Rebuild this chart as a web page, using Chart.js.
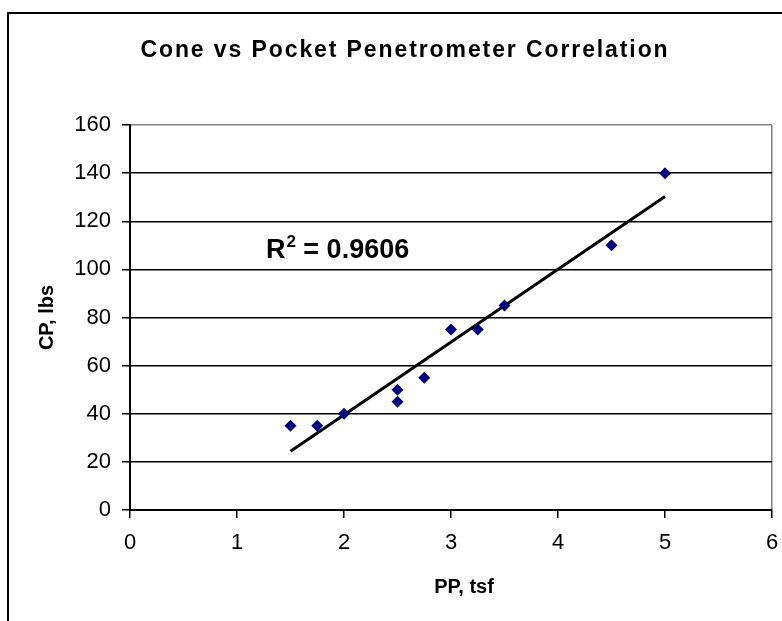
<!DOCTYPE html>
<html>
<head>
<meta charset="utf-8">
<script src="https://cdn.jsdelivr.net/npm/chart.js@4"></script>
<style>
    body { margin: 0; background: #fff; }
    #wrap { width: 782px; height: 621px; position: relative; }
</style>
</head>
<body>
<div id="wrap"><canvas id="coneChart" width="782" height="621"></canvas></div>
<script>
// Data
const ppValues = [1.5, 1.75, 2, 2.5, 2.5, 2.75, 3, 3.25, 3.5, 4.5, 5];
const cpValues = [35, 35, 40, 50, 45, 55, 75, 75, 85, 110, 140];
const trendX = [1.5, 5];
const trendY = [24.4, 130.3];
const rSquared = '0.9606';
const chartTitle = 'Cone vs Pocket Penetrometer Correlation';
const xLabel = 'PP, tsf';
const yLabel = 'CP, lbs';

const colors = {
    marker: '#000080',
    line: '#000000',
    frame: '#808080',
};

const FONT = '"Liberation Sans", Arial, sans-serif';

// Outer frame, title, x axis title and R² label
const decorations = {
    id: 'decorations',
    beforeDraw(chart) {
        const ctx = chart.ctx;
        ctx.save();
        ctx.fillStyle = '#fff';
        ctx.fillRect(0, 0, chart.width, chart.height);
        ctx.strokeStyle = '#000';
        ctx.lineWidth = 2;
        ctx.strokeRect(8, 13, chart.width + 20, chart.height + 20);
        ctx.restore();
    },
    afterDraw(chart) {
        const ctx = chart.ctx;
        ctx.save();
        ctx.fillStyle = '#000';
        ctx.textBaseline = 'alphabetic';

        // title
        ctx.font = 'bold 23px ' + FONT;
        ctx.letterSpacing = '1.9px';
        ctx.textAlign = 'center';
        ctx.fillText(chartTitle, 405, 57);
        ctx.letterSpacing = '0px';

        // x axis title (sits a little right of the plot centre in the original)
        ctx.font = 'bold 20px ' + FONT;
        ctx.textBaseline = 'middle';
        ctx.fillText(xLabel, 464, 587);
        ctx.textBaseline = 'alphabetic';

        // R² = value
        const x = chart.scales.x.getPixelForValue(1.27);
        const y = chart.scales.y.getPixelForValue(104.7);
        ctx.textAlign = 'left';
        ctx.font = 'bold 27px ' + FONT;
        ctx.fillText('R', x, y);
        let w = ctx.measureText('R').width;
        ctx.font = 'bold 17px ' + FONT;
        ctx.fillText('2', x + w + 1, y - 11);
        w += ctx.measureText('2').width + 1;
        ctx.font = 'bold 27px ' + FONT;
        ctx.fillText(' = ' + rSquared, x + w, y);
        ctx.restore();
    }
};

const ctx = document.getElementById('coneChart').getContext('2d');

new Chart(ctx, {
    type: 'scatter',
    data: {
        datasets: [
            {
                label: 'CP',
                data: ppValues.map((v, i) => ({ x: v, y: cpValues[i] })),
                backgroundColor: colors.marker,
                borderColor: colors.marker,
                pointStyle: 'rectRot',
                pointRadius: 6,
                pointHoverRadius: 6,
                borderWidth: 0,
            },
            {
                label: 'Linear',
                data: trendX.map((v, i) => ({ x: v, y: trendY[i] })),
                showLine: true,
                borderColor: colors.line,
                borderWidth: 3,
                pointRadius: 0,
                fill: false,
            }
        ]
    },
    options: {
        responsive: false,
        animation: false,
        layout: {
            padding: { left: 0, right: 10, top: 125, bottom: 0 }
        },
        plugins: {
            legend: { display: false },
            tooltip: { enabled: false },
        },
        scales: {
            x: {
                type: 'linear',
                min: 0,
                max: 6,
                afterFit(scale) {
                    scale.height = 111;
                    scale.paddingLeft = 0;
                    scale.paddingRight = 0;
                },
                ticks: {
                    stepSize: 1,
                    color: '#000',
                    padding: 12,
                    font: { family: FONT, size: 22 },
                },
                grid: {
                    drawOnChartArea: true,
                    color: c => (c.tick && c.tick.value === 6) ? colors.frame : 'rgba(0,0,0,0)',
                    tickColor: '#000',
                    tickLength: 8,
                    lineWidth: 1.5,
                },
                border: { color: '#000', width: 2 },
            },
            y: {
                type: 'linear',
                min: 0,
                max: 160,
                afterFit(scale) { scale.width = 130; },
                ticks: {
                    stepSize: 20,
                    color: '#000',
                    padding: 11,
                    font: { family: FONT, size: 22 },
                },
                grid: {
                    color: c => (c.tick && c.tick.value === 160) ? colors.frame : '#000',
                    tickColor: '#000',
                    tickLength: 8,
                    lineWidth: 1.5,
                },
                border: { color: '#000', width: 2 },
                title: {
                    display: true,
                    text: yLabel,
                    color: '#000',
                    font: { family: FONT, size: 20, weight: 'bold' },
                    padding: { top: 35, bottom: 0 },
                }
            }
        }
    },
    plugins: [decorations]
});
</script>
</body>
</html>
